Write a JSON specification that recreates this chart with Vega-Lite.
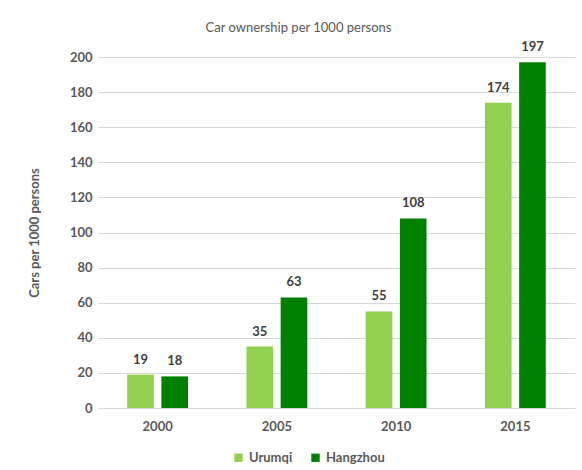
{
  "$schema": "https://vega.github.io/schema/vega-lite/v6.json",
  "autosize": "none",
  "width": 477,
  "height": 351,
  "padding": {"left": 98, "top": 57, "right": 7, "bottom": 62},
  "background": "white",
  "config": {"view": {"stroke": null}, "font": "Lato"},
  "title": {"text": "Car ownership per 1000 persons", "fontSize": 13, "fontWeight": "normal", "color": "#595959", "anchor": "middle", "dx": -38, "offset": 6},
  "data": {"values": [
    {"year": "2000", "city": "Urumqi", "cars": 19},
    {"year": "2000", "city": "Hangzhou", "cars": 18},
    {"year": "2005", "city": "Urumqi", "cars": 35},
    {"year": "2005", "city": "Hangzhou", "cars": 63},
    {"year": "2010", "city": "Urumqi", "cars": 55},
    {"year": "2010", "city": "Hangzhou", "cars": 108},
    {"year": "2015", "city": "Urumqi", "cars": 174},
    {"year": "2015", "city": "Hangzhou", "cars": 197}
  ]},
  "encoding": {
    "x": {"field": "year", "type": "nominal", "scale": {"paddingInner": 0.49, "paddingOuter": 0.245},
      "axis": {"title": null, "labelAngle": 0, "labelFontSize": 13, "labelFontWeight": "bold", "labelColor": "#595959", "labelPadding": 12, "ticks": false, "domainColor": "#d9d9d9"}},
    "xOffset": {"field": "city", "type": "nominal", "sort": ["Urumqi", "Hangzhou"], "scale": {"paddingInner": 0.22}},
    "y": {"field": "cars", "type": "quantitative", "scale": {"domain": [0, 200]},
      "axis": {"title": "Cars per 1000  persons", "titleFontSize": 13, "titleFontWeight": "bold", "titleColor": "#595959", "titlePadding": 28, "labelFontSize": 13, "labelFontWeight": "bold", "labelColor": "#595959", "labelPadding": 6, "ticks": false, "domain": false, "tickCount": 10, "gridColor": "#d9d9d9"}}
  },
  "layer": [
    {"mark": {"type": "bar"},
     "encoding": {"color": {"field": "city", "type": "nominal", "sort": ["Urumqi", "Hangzhou"], "scale": {"domain": ["Urumqi", "Hangzhou"], "range": ["#92D050", "#008000"]},
       "legend": {"title": null, "orient": "none", "direction": "horizontal", "legendX": 134, "legendY": 394, "symbolType": "square", "symbolSize": 70, "symbolStrokeWidth": 0, "labelFontSize": 13, "labelFontWeight": "bold", "labelColor": "#595959", "columnPadding": 16, "labelOffset": 4}}}},
    {"mark": {"type": "text", "baseline": "bottom", "dy": -8, "fontSize": 13, "fontWeight": "bold", "color": "#404040"},
     "encoding": {"text": {"field": "cars", "type": "quantitative"}}}
  ]
}
